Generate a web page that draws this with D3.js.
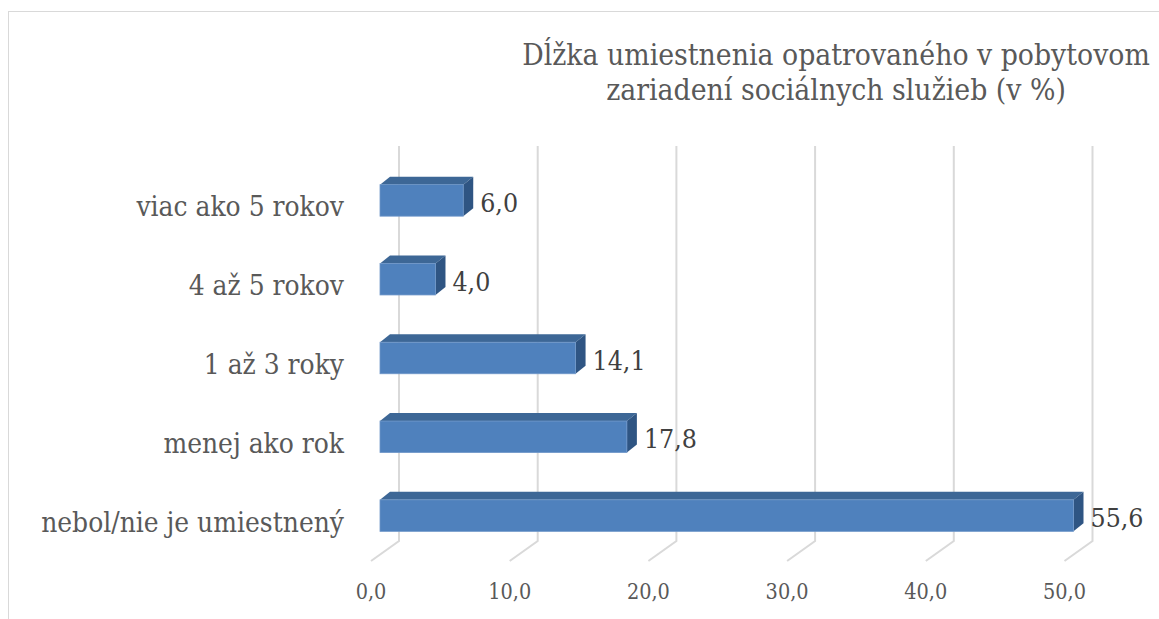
<!DOCTYPE html>
<html><head><meta charset="utf-8">
<script src="https://cdn.jsdelivr.net/npm/d3@7/dist/d3.min.js"></script>
<style>html,body{margin:0;padding:0;background:#fff;overflow:hidden} text{font-stretch:condensed}</style>
</head><body>
<svg id="chart" width="1159" height="619"></svg>
<script>
const categories = ["viac ako 5 rokov", "4 až 5 rokov", "1 až 3 roky", "menej ako rok", "nebol/nie je umiestnený"];
const values = [6.0, 4.0, 14.1, 17.8, 55.6];
const ticks = [0, 10, 20, 30, 40, 50];
const titleLines = ["Dĺžka umiestnenia opatrovaného v pobytovom", "zariadení sociálnych služieb (v %)"];

const FONT = "'DejaVu Serif Condensed', 'DejaVu Serif', serif";
const fmt = v => v.toFixed(1).replace(".", ",");
const svg = d3.select("#chart");

// chart border
svg.append("rect").attr("x", 8.5).attr("y", 11.5).attr("width", 1200).attr("height", 700)
  .attr("fill", "#fff").attr("stroke", "#d9d9d9").attr("stroke-width", 1);

const xMax = 50;
const x = d3.scaleLinear().domain([0, xMax]).range([380, 1073.5]);
const y = d3.scaleBand().domain(categories).range([161, 555]).paddingInner(0.6).paddingOuter(0.3);

// 3D offsets
const back = {dx: 19, top: 146, bottom: 541};
const floor = {dx: -9, y: 561};
const depth = {dx: 10, dy: -8};

function fitSize(text, target, base) {
  const t = svg.append("text").attr("font-family", FONT).attr("font-size", base).text(text);
  const w = t.node().getComputedTextLength();
  t.remove();
  return base * target / w;
}

// gridlines (back wall + floor)
const grid = svg.append("g").attr("fill", "none").attr("stroke", "#d9d9d9").attr("stroke-width", 2);
ticks.forEach(t => {
  const bx = x(t) + back.dx, fx = x(t) + floor.dx;
  grid.append("path").attr("d", `M${bx},${back.top}L${bx},${back.bottom}L${fx},${floor.y}`);
});

// tick labels
const tickSize = fitSize("10,0", 43, 20);
svg.append("g").selectAll("text").data(ticks).join("text")
  .attr("x", d => x(d) + floor.dx).attr("y", 599)
  .attr("text-anchor", "middle").attr("font-family", FONT).attr("font-size", tickSize)
  .attr("fill", "#595959").text(d => fmt(d));

// bars
const bars = svg.append("g").selectAll("g").data(values).join("g");
bars.each(function(v, i) {
  const g = d3.select(this);
  const x0 = x(0), x1 = x(Math.min(v, xMax));
  const y0 = y(categories[i]), h = y.bandwidth();
  g.append("path").attr("d", `M${x0},${y0}L${x0+depth.dx},${y0+depth.dy}L${x1+depth.dx},${y0+depth.dy}L${x1},${y0}Z`)
    .attr("fill", "#3d6796");
  g.append("path").attr("d", `M${x1},${y0}L${x1+depth.dx},${y0+depth.dy}L${x1+depth.dx},${y0+h+depth.dy}L${x1},${y0+h}Z`)
    .attr("fill", "#2f5583");
  g.append("rect").attr("x", x0).attr("y", y0).attr("width", x1 - x0).attr("height", h)
    .attr("fill", "#4f81bd").attr("stroke", "#6f97c9").attr("stroke-width", 0.8);
});

// value labels
const valSize = fitSize("55,6", 53, 26);
svg.append("g").selectAll("text").data(values).join("text")
  .attr("x", d => x(Math.min(d, xMax)) + depth.dx + 7)
  .attr("y", (d, i) => y(categories[i]) + y.bandwidth() / 2 + 11.5)
  .attr("font-family", FONT).attr("font-size", valSize).attr("fill", "#404040")
  .text(d => fmt(d));

// category labels
const catSize = fitSize(categories[4], 303, 22);
svg.append("g").selectAll("text").data(categories).join("text")
  .attr("x", 344).attr("y", d => y(d) + y.bandwidth() / 2 + 16)
  .attr("text-anchor", "end").attr("font-family", FONT).attr("font-size", catSize)
  .attr("fill", "#595959").text(d => d);

// title
const titleSize = fitSize(titleLines[0], 628, 28);
svg.append("g").selectAll("text").data(titleLines).join("text")
  .attr("x", 836).attr("y", (d, i) => 65 + i * 35)
  .attr("text-anchor", "middle").attr("font-family", FONT).attr("font-size", titleSize)
  .attr("fill", "#595959").text(d => d);
</script>
</body></html>
